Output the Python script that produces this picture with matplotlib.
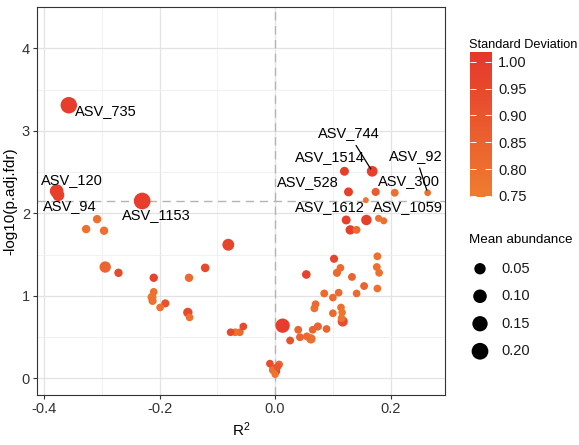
import numpy as np
import matplotlib
matplotlib.use('Agg')
import matplotlib.pyplot as plt
from matplotlib.colors import LinearSegmentedColormap, Normalize
from matplotlib.ticker import MultipleLocator, FuncFormatter

plt.rcParams.update({
    'font.family': ['Liberation Sans', 'DejaVu Sans'],
    'mathtext.default': 'regular',
    'font.size': 10.5,
})

# R2, -log10(p.adj.fdr), mean abundance, standard deviation
r2 = [-0.357, -0.375, -0.378, -0.230, -0.308, -0.327, -0.296, -0.294, -0.271, -0.210,
      -0.149, -0.121, -0.081, -0.213, -0.210, -0.212, -0.199, -0.190, -0.151, -0.148,
      -0.077, -0.069, -0.061, -0.055, 0.013, -0.009, 0.007, -0.003, 0.002, -0.004,
      0.000, 0.004, 0.026, 0.040, 0.043, 0.055, 0.062, 0.065, 0.074, 0.089,
      0.068, 0.070, 0.085, 0.054, 0.100, 0.110, 0.100, 0.114, 0.116, 0.117,
      0.115, 0.102, 0.113, 0.107, 0.133, 0.154, 0.141, 0.177, 0.176, 0.180,
      0.177, 0.120, 0.168, 0.127, 0.174, 0.207, 0.264, 0.157, 0.123, 0.158,
      0.179, 0.188, 0.130, 0.141]
logp = [3.31, 2.22, 2.27, 2.15, 1.93, 1.81, 1.79, 1.35, 1.28, 1.22,
        1.22, 1.34, 1.62, 0.985, 1.05, 0.94, 0.86, 0.91, 0.80, 0.74,
        0.56, 0.56, 0.56, 0.63, 0.64, 0.18, 0.17, 0.12, 0.085, 0.10,
        0.05, 0.14, 0.46, 0.59, 0.50, 0.51, 0.48, 0.59, 0.63, 0.60,
        0.85, 0.90, 1.03, 1.26, 0.98, 1.04, 0.79, 0.86, 0.80, 0.69,
        0.73, 1.45, 1.34, 1.28, 1.23, 1.12, 1.03, 1.48, 1.35, 1.28,
        1.09, 2.51, 2.51, 2.26, 2.26, 2.25, 2.25, 2.16, 1.92, 1.92,
        1.94, 1.91, 1.80, 1.80]
abund = [0.19, 0.06, 0.10, 0.20, 0.01, 0.01, 0.01, 0.05, 0.01, 0.01,
         0.01, 0.012, 0.06, 0.015, 0.005, 0.008, 0.005, 0.008, 0.02, 0.005,
         0.005, 0.005, 0.005, 0.005, 0.12, 0.005, 0.005, 0.008, 0.006, 0.005,
         0.003, 0.005, 0.006, 0.006, 0.006, 0.006, 0.02, 0.005, 0.008, 0.005,
         0.006, 0.005, 0.006, 0.012, 0.005, 0.005, 0.005, 0.005, 0.004, 0.03,
         0.005, 0.008, 0.005, 0.008, 0.006, 0.006, 0.005, 0.006, 0.006, 0.005,
         0.005, 0.015, 0.04, 0.015, 0.008, 0.006, 0.001, 0.0, 0.015, 0.035,
         0.002, 0.002, 0.02, 0.006]
sdev = [1.00, 0.99, 0.99, 1.00, 0.80, 0.80, 0.80, 0.84, 0.95, 0.97,
        0.82, 0.95, 0.97, 0.78, 0.80, 0.80, 0.80, 0.92, 0.95, 0.80,
        0.95, 0.80, 0.82, 0.95, 1.00, 0.93, 0.85, 0.95, 0.97, 0.80,
        0.78, 0.90, 0.92, 0.85, 0.85, 0.82, 0.80, 0.85, 0.85, 0.85,
        0.80, 0.82, 0.82, 0.98, 0.82, 0.82, 0.82, 0.80, 0.78, 0.93,
        0.78, 0.97, 0.82, 0.82, 0.85, 0.85, 0.82, 0.80, 0.80, 0.80,
        0.80, 0.99, 0.99, 0.99, 0.88, 0.80, 0.80, 0.78, 0.99, 0.99,
        0.80, 0.80, 0.99, 0.82]

# labelled ASVs: name, index of point, label position
labels = ['ASV_735', 'ASV_94', 'ASV_120', 'ASV_1153', 'ASV_1514', 'ASV_744',
          'ASV_528', 'ASV_300', 'ASV_92', 'ASV_1612', 'ASV_1059']
label_idx = [0, 1, 2, 3, 61, 62, 63, 65, 66, 68, 69]
label_xy = [(-0.293, 3.24), (-0.356, 2.09), (-0.352, 2.41), (-0.205, 1.98),
            (0.094, 2.68), (0.127, 2.97), (0.056, 2.38), (0.232, 2.39),
            (0.243, 2.70), (0.094, 2.08), (0.230, 2.08)]
segment_labels = ['ASV_744', 'ASV_92']

size_breaks = [0.05, 0.10, 0.15, 0.20]
sd_breaks = [0.75, 0.80, 0.85, 0.90, 0.95, 1.00]
fdr_line = 2.15


def size_map(v):
    d_px = 6 + 24 * np.sqrt(np.asarray(v))
    return (d_px * 0.72) ** 2


cmap = LinearSegmentedColormap.from_list('sd', ['#EF7D30', '#EA5A2E', '#E5382C'])
norm = Normalize(vmin=0.748, vmax=1.018)

W, H = 579, 445
fig = plt.figure(figsize=(W / 100, H / 100), dpi=100)
ax = fig.add_axes([37 / W, 1 - 395 / H, 408 / W, 388 / H])

ax.axhline(fdr_line, color='#B4B4B4', lw=1, ls=(0, (6, 4)), zorder=1)
ax.axvline(0, color='#B4B4B4', lw=1, ls=(0, (6, 4)), zorder=1)

order = np.argsort(abund)[::-1]
ax.scatter(np.array(r2)[order], np.array(logp)[order], s=size_map(np.array(abund)[order]),
           c=np.array(sdev)[order], cmap=cmap, norm=norm, edgecolors='none', zorder=3)

for name, i, (tx, ty) in zip(labels, label_idx, label_xy):
    if name in segment_labels:
        ax.annotate(name, xy=(r2[i], logp[i]), xytext=(tx, ty), ha='center', va='center',
                    fontsize=10.5, color='black', zorder=4,
                    arrowprops=dict(arrowstyle='-', color='black', lw=0.9,
                                    shrinkA=2, shrinkB=2))
    else:
        ax.text(tx, ty, name, ha='center', va='center', fontsize=10.5, color='black', zorder=4)

ax.set_xlim(-0.412, 0.294)
ax.set_ylim(-0.2, 4.5)
ax.xaxis.set_major_locator(MultipleLocator(0.2))
ax.xaxis.set_minor_locator(MultipleLocator(0.1))
ax.yaxis.set_major_locator(MultipleLocator(1))
ax.yaxis.set_minor_locator(MultipleLocator(0.5))
ax.xaxis.set_major_formatter(FuncFormatter(lambda v, p: f'{v:.1f}'))
ax.grid(which='major', color='#E3E3E3', lw=0.9, zorder=0)
ax.grid(which='minor', color='#EFEFEF', lw=0.6, zorder=0)
ax.set_axisbelow(True)
ax.tick_params(which='major', length=3, width=0.8, color='#333333', labelcolor='#333333',
               labelsize=10.5, pad=2)
ax.tick_params(which='minor', length=0)
for sp in ax.spines.values():
    sp.set_color('#333333')
    sp.set_linewidth(0.8)
ax.set_xlabel('R$^2$', fontsize=11, labelpad=3)
ax.set_ylabel('-log10(p.adj.fdr)', fontsize=11, labelpad=3)

# colour bar legend
cax = fig.add_axes([470 / W, 1 - 197 / H, 21 / W, 145 / H])
grad = np.linspace(norm.vmin, norm.vmax, 256).reshape(-1, 1)
cax.imshow(grad, aspect='auto', cmap=cmap, norm=norm, origin='lower',
           extent=[0, 1, norm.vmin, norm.vmax])
cax.set_xlim(0, 1)
cax.set_ylim(norm.vmin, norm.vmax)
cax.set_xticks([])
cax.set_yticks(sd_breaks)
cax.set_yticklabels([f'{b:.2f}' for b in sd_breaks])
cax.yaxis.tick_right()
cax.tick_params(axis='y', direction='in', length=4, width=0.7, color='white',
                left=True, right=True, labelsize=10.5, labelcolor='#1A1A1A', pad=5)
for sp in cax.spines.values():
    sp.set_visible(False)
fig.text(469 / W, 1 - 45 / H, 'Standard Deviation', fontsize=9.2, ha='left', va='center')

# size legend
lax = fig.add_axes([460 / W, 1 - 365 / H, 40 / W, 110 / H])
ypos = np.arange(len(size_breaks))[::-1]
lax.scatter(np.zeros(len(size_breaks)), ypos, s=size_map(size_breaks), c='black',
            edgecolors='none')
for yv, b in zip(ypos, size_breaks):
    lax.text(1.05, yv, f'{b:.2f}', ha='left', va='center', fontsize=10.5, color='#1A1A1A')
lax.set_xlim(-1.0, 1.0)
lax.set_ylim(-0.5, 3.5)
lax.axis('off')
fig.text(469 / W, 1 - 240 / H, 'Mean abundance', fontsize=9.6, ha='left', va='center')

fig.savefig('out.png', dpi=100)
